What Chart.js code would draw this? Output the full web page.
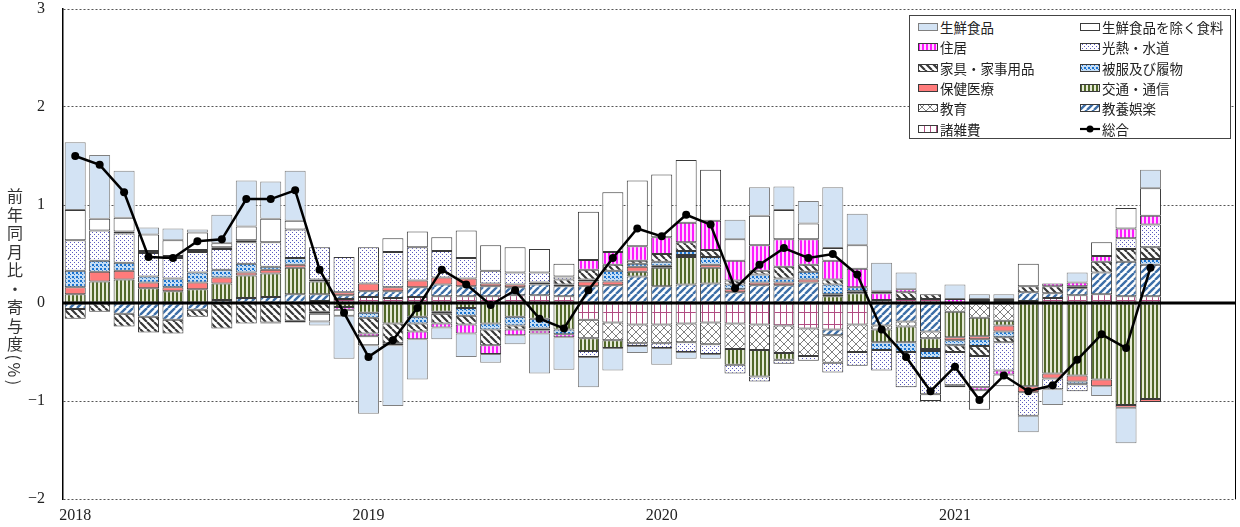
<!DOCTYPE html>
<html lang="ja">
<head>
<meta charset="utf-8">
<title>前年同月比・寄与度</title>
<script src="https://cdn.jsdelivr.net/npm/chart.js@4.4.1/dist/chart.umd.min.js"></script>
<style>
  html, body { margin: 0; padding: 0; background: #fff; }
  #wrap { position: relative; width: 1240px; height: 527px; }
  #yTitle {
    position: absolute; left: 7px; top: 188px;
    writing-mode: vertical-rl; line-height: 1;
    font-family: "Noto Sans CJK JP", sans-serif; font-size: 16px; letter-spacing: 2.5px; color: #333;
  }
  #legend {
    position: absolute; left: 909px; top: 15px; width: 322px; height: 124px;
    box-sizing: border-box; border: 1px solid #444; background: #fff;
    display: grid; grid-template-columns: 162px 150px; grid-auto-rows: 20.3px;
    padding: 1px 0 0 8px;
    font-family: "Noto Sans CJK JP", sans-serif; font-size: 13.5px; color: #222;
  }
  .item { display: flex; align-items: center; white-space: nowrap; }
  .item canvas { margin-right: 2px; }
</style>
</head>
<body>
<div id="wrap">
  <canvas id="chart" width="1240" height="527"></canvas>
  <div id="yTitle">前年同月比・寄与度(%)</div>
  <div id="legend"></div>
</div>
<script>
// 年(目盛ラベル)と月次カテゴリ
const years = ['2018', '2019', '2020', '2021'];
const months = [];
years.forEach(y => { for (let m = 1; m <= 12; m++) months.push(y + '/' + m); });

// 寄与度 (2018/1 - 2021/9)
const zatsuhi = [0, 0, 0, 0, 0, 0, 0, 0, 0, 0, 0.02, 0.04, 0.06, 0.05, 0.06, 0.07, 0.07, 0.07, 0.08, 0.08, 0.07, -0.17, -0.20, -0.22, -0.22, -0.21, -0.20, -0.21, -0.22, -0.23, -0.26, -0.27, -0.22, 0.03, 0.04, 0.04, 0, 0.02, 0.02, 0.02, 0.05, 0.08, 0.09, 0.07, 0.07];
const kyoyo = [-0.06, 0, -0.11, -0.14, -0.17, -0.07, 0.03, 0.05, 0.06, 0.09, 0.07, 0.04, 0.06, 0.07, 0.10, 0.12, 0.10, 0.10, 0.08, 0.11, 0.10, 0.17, 0.18, 0.27, 0.17, 0.19, 0.20, 0.11, 0.18, 0.18, 0.21, -0.06, 0, -0.23, -0.19, -0.29, 0, 0.02, 0.02, 0.09, 0.05, 0.07, 0.22, 0.35, 0.32];
const kyoiku = [0, 0, 0, 0, 0, 0, 0, 0, 0, 0, 0, 0, 0, 0, 0, 0, 0, 0, 0, 0, 0, -0.19, -0.18, -0.19, -0.19, -0.19, -0.22, -0.26, -0.26, -0.28, -0.28, -0.28, -0.28, -0.04, -0.05, -0.07, -0.09, -0.15, -0.18, 0, 0, 0, 0, 0, 0];
const kotsu = [0.09, 0.22, 0.24, 0.15, 0.12, 0.14, 0.17, 0.23, 0.24, 0.27, 0.13, -0.04, -0.10, -0.21, -0.14, -0.09, -0.05, -0.21, -0.14, -0.16, -0.27, -0.13, -0.08, 0.05, 0.19, 0.28, 0.16, -0.16, -0.27, -0.07, 0, 0.07, 0.10, -0.13, -0.16, -0.11, -0.26, -0.19, -0.05, -0.85, -0.72, -0.74, -0.78, -1.04, -0.98];
const hoken = [0.07, 0.10, 0.09, 0.06, 0.04, 0.07, 0.06, 0.03, 0.04, 0.03, 0.02, 0.03, 0.08, 0.04, 0.07, 0.07, 0.08, 0.03, 0.03, 0.02, 0.02, 0.05, 0.04, 0.05, 0.02, 0.02, 0.03, 0.03, 0.03, 0.03, 0.03, 0.02, 0.02, 0, 0, -0.02, -0.03, -0.03, -0.06, -0.06, -0.05, -0.06, -0.07, -0.03, -0.03];
const hifuku = [0.17, 0.11, 0.08, 0.06, 0.09, 0.10, 0.08, 0.09, 0.03, 0.07, 0, 0, -0.05, 0, -0.07, -0.02, -0.08, -0.06, -0.09, -0.10, -0.05, 0.02, 0.11, 0.03, 0.04, 0.04, 0.08, 0.05, 0.08, 0.04, 0.08, 0.10, 0.04, -0.08, -0.10, -0.07, -0.05, -0.07, -0.06, 0, 0, -0.03, 0, 0, 0.06];
const kagu = [-0.10, -0.09, -0.13, -0.16, -0.14, -0.07, -0.26, -0.21, -0.20, -0.18, -0.09, 0, -0.16, -0.20, -0.08, -0.10, -0.09, -0.16, -0.04, -0.02, 0.05, 0.10, 0.06, 0.03, 0.08, 0.09, 0.07, 0.04, 0.04, 0.12, 0.07, 0.05, 0, 0, 0.07, 0.05, -0.07, -0.10, -0.05, 0.06, 0.07, 0.02, 0.11, 0.13, 0.12];
const konetsu = [0.31, 0.31, 0.30, 0.24, 0.21, 0.21, 0.21, 0.22, 0.25, 0.29, 0.33, 0.36, 0.37, 0.36, 0.34, 0.27, 0.21, 0.13, 0.12, 0.10, 0.03, -0.06, 0, -0.03, -0.05, -0.10, -0.10, -0.09, -0.05, -0.04, -0.05, -0.10, -0.14, -0.21, -0.36, -0.37, -0.34, -0.32, -0.29, -0.24, -0.11, -0.07, 0, 0.11, 0.23];
const jukyo = [0, 0, 0.02, 0.02, 0.02, 0.02, 0.02, 0.02, -0.01, -0.02, -0.02, -0.03, -0.03, -0.02, -0.08, -0.04, -0.09, -0.09, -0.06, -0.03, -0.03, 0.10, 0.13, 0.15, 0.17, 0.20, 0.30, 0.20, 0.26, 0.28, 0.26, 0.19, 0.19, 0.07, 0.03, 0, 0.04, -0.03, -0.04, 0, 0.03, 0.04, 0.06, 0.10, 0.09];
const shokuryo = [0.31, 0.12, 0.14, 0.17, 0.16, 0.18, 0.04, 0.14, 0.24, 0.09, -0.08, -0.06, -0.09, 0.14, 0.16, 0.14, 0.28, 0.26, 0.26, 0.24, 0.13, 0.49, 0.61, 0.67, 0.64, 0.64, 0.52, 0.22, 0.30, 0.30, 0.16, 0.13, 0.24, 0.02, 0, -0.07, -0.02, -0.20, -0.12, 0.23, 0, 0, 0.14, 0.21, 0.28];
const seisen = [0.69, 0.65, 0.48, 0.07, 0.12, 0.03, 0.29, 0.47, 0.38, 0.51, -0.04, -0.44, -0.70, -0.62, -0.41, -0.12, -0.24, -0.09, -0.09, -0.41, -0.33, -0.31, -0.23, -0.07, -0.17, -0.07, -0.05, 0.20, 0.29, 0.24, 0.23, 0.62, 0.32, 0.29, 0.17, 0, 0.15, 0.05, 0.05, -0.17, -0.16, 0.10, -0.10, -0.36, 0.19];
const sogo = [1.50, 1.41, 1.13, 0.47, 0.46, 0.63, 0.65, 1.06, 1.06, 1.15, 0.34, -0.10, -0.55, -0.38, -0.05, 0.34, 0.19, -0.02, 0.13, -0.16, -0.26, 0.13, 0.46, 0.76, 0.68, 0.90, 0.80, 0.15, 0.39, 0.56, 0.46, 0.50, 0.29, -0.27, -0.55, -0.90, -0.65, -0.99, -0.74, -0.90, -0.84, -0.58, -0.32, -0.46, 0.36];

// 模様タイル
function tile(w, h, paint) {
    const c = document.createElement('canvas');
    c.width = w; c.height = h;
    paint(c.getContext('2d'), w, h);
    return c;
}
function diag(g, p, color, lw, up) {
    g.fillStyle = '#fff'; g.fillRect(0, 0, p, p);
    g.strokeStyle = color; g.lineWidth = lw;
    g.beginPath();
    for (let k = -1; k <= 1; k++) {
        if (up) { g.moveTo(k * p, p); g.lineTo(k * p + p, 0); }
        else { g.moveTo(k * p, 0); g.lineTo(k * p + p, p); }
    }
    g.stroke();
}

const fills = {
    '諸雑費': tile(6, 12, g => { g.fillStyle = '#fff'; g.fillRect(0, 0, 6, 12); g.fillStyle = '#b24c82'; g.fillRect(0, 0, 1, 12); g.fillRect(0, 0, 6, 1); }),
    '教養娯楽': tile(7, 7, g => diag(g, 7, '#3d6fa8', 2.4, true)),
    '教育': tile(8, 8, g => { diag(g, 8, '#808080', 1, true); g.strokeStyle = '#808080'; g.lineWidth = 1; g.beginPath(); for (let k = -1; k <= 1; k++) { g.moveTo(k * 8, 0); g.lineTo(k * 8 + 8, 8); } g.stroke(); }),
    '交通・通信': tile(4, 4, g => { g.fillStyle = '#e6ead8'; g.fillRect(0, 0, 4, 4); g.fillStyle = '#52692a'; g.fillRect(0, 0, 2, 4); }),
    '保健医療': '#ff7b7b',
    '被服及び履物': tile(4, 4, g => { g.fillStyle = '#c4ddf5'; g.fillRect(0, 0, 4, 4); g.fillStyle = '#1a73d0'; g.fillRect(0, 0, 2, 2); g.fillRect(2, 2, 1, 1); }),
    '家具・家事用品': tile(7, 7, g => diag(g, 7, '#383838', 2.2, false)),
    '光熱・水道': tile(4, 4, g => { g.fillStyle = '#fff'; g.fillRect(0, 0, 4, 4); g.fillStyle = '#5b5bbf'; g.fillRect(0, 0, 1, 1); g.fillRect(2, 2, 1, 1); }),
    '住居': tile(4, 4, g => { g.fillStyle = '#ffd6ff'; g.fillRect(0, 0, 4, 4); g.fillStyle = '#ff1aff'; g.fillRect(0, 0, 2, 4); }),
    '生鮮食品を除く食料': '#ffffff',
    '生鮮食品': '#d3e3f4'
};

// 積み上げ順 (0に近い方から)
const stackOrder = [
    ['諸雑費', zatsuhi], ['教養娯楽', kyoyo], ['教育', kyoiku], ['交通・通信', kotsu],
    ['保健医療', hoken], ['被服及び履物', hifuku], ['家具・家事用品', kagu], ['光熱・水道', konetsu],
    ['住居', jukyo], ['生鮮食品を除く食料', shokuryo], ['生鮮食品', seisen]
];
const legendOrder = ['生鮮食品', '生鮮食品を除く食料', '住居', '光熱・水道', '家具・家事用品', '被服及び履物',
    '保健医療', '交通・通信', '教育', '教養娯楽', '諸雑費', '総合'];

const canvas = document.getElementById('chart');
const ctx = canvas.getContext('2d');

function fillFor(g, name) {
    const f = fills[name];
    return typeof f === 'string' ? f : g.createPattern(f, 'repeat');
}
function edgeFor(name) {
    return name === '生鮮食品' ? '#808080' : '#3a3a3a';
}

const datasets = [{
    type: 'line',
    label: '総合',
    data: sogo,
    borderColor: '#000',
    backgroundColor: '#000',
    borderWidth: 2.5,
    pointRadius: 4,
    pointHoverRadius: 4,
    pointBorderWidth: 0,
    tension: 0,
    fill: false,
    stack: 'sogo',
    order: 0
}];
stackOrder.forEach(([name, values]) => {
    datasets.push({
        type: 'bar',
        label: name,
        data: values,
        backgroundColor: fillFor(ctx, name),
        borderColor: edgeFor(name),
        borderWidth: 1,
        borderSkipped: false,
        barPercentage: 0.86,
        categoryPercentage: 1,
        stack: 'cpi',
        order: 1
    });
});

// ゼロ線と右枠
const frame = {
    id: 'frame',
    beforeDatasetDraw(chart, args) {
        if (args.index !== 0) return;
        const { ctx, chartArea: a, scales: { y } } = chart;
        const y0 = Math.round(y.getPixelForValue(0));
        ctx.save();
        ctx.strokeStyle = '#000';
        ctx.lineWidth = 3;
        ctx.beginPath(); ctx.moveTo(a.left, y0); ctx.lineTo(a.right, y0); ctx.stroke();
        ctx.lineWidth = 1;
        ctx.beginPath(); ctx.moveTo(a.right - 0.5, a.top); ctx.lineTo(a.right - 0.5, a.bottom); ctx.stroke();
        ctx.restore();
    }
};

const tickFont = { family: '"Liberation Serif", serif', size: 16, lineHeight: 1.125 };

new Chart(ctx, {
    data: { labels: months, datasets },
    options: {
        responsive: false,
        animation: false,
        layout: { padding: { left: 0, right: 3, top: 0, bottom: 2 } },
        plugins: { legend: { display: false }, tooltip: { enabled: false } },
        scales: {
            x: {
                stacked: true,
                afterFit: (scale) => { scale.height = 26; },
                grid: { display: false, drawTicks: false },
                border: { display: false },
                ticks: {
                    autoSkip: false, maxRotation: 0, minRotation: 0,
                    color: '#222', font: tickFont, padding: 8,
                    callback: (v, i) => (i % 12 === 0 ? years[i / 12] : '')
                }
            },
            y: {
                stacked: true,
                min: -2, max: 3,
                afterFit: (scale) => { scale.width = 63; },
                grid: { color: '#555', lineWidth: 1, drawTicks: true, tickLength: 18, tickColor: 'rgba(0,0,0,0)' },
                border: { display: true, color: '#000', width: 1.5, dash: [2, 2] },
                ticks: {
                    stepSize: 1, color: '#222', font: tickFont, padding: 0,
                    callback: v => (v < 0 ? '\u2212' + (-v) : String(v))
                }
            }
        }
    },
    plugins: [frame]
});

// 凡例 (HTML)
const legendBox = document.getElementById('legend');
legendOrder.forEach(name => {
    const item = document.createElement('div');
    item.className = 'item';
    const sw = document.createElement('canvas');
    sw.width = 20; sw.height = 10;
    const g = sw.getContext('2d');
    if (name === '総合') {
        g.strokeStyle = '#000'; g.lineWidth = 2.2;
        g.beginPath(); g.moveTo(0, 5); g.lineTo(20, 5); g.stroke();
        g.fillStyle = '#000'; g.beginPath(); g.arc(10, 5, 3.5, 0, Math.PI * 2); g.fill();
    } else {
        g.fillStyle = fillFor(g, name);
        g.fillRect(0.5, 1.5, 19, 7);
        g.strokeStyle = edgeFor(name); g.lineWidth = 1;
        g.strokeRect(0.5, 1.5, 19, 7);
    }
    item.appendChild(sw);
    const t = document.createElement('span');
    t.textContent = name;
    item.appendChild(t);
    legendBox.appendChild(item);
});
</script>
</body>
</html>
